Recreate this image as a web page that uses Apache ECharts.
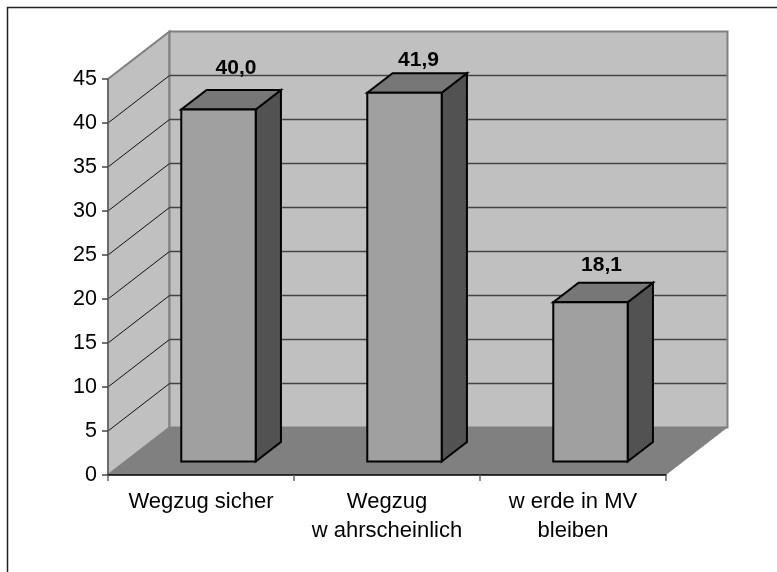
<!DOCTYPE html>
<html>
<head>
<meta charset="utf-8">
<style>
    html, body { margin: 0; padding: 0; background: #fff; overflow: hidden; }
    #main { width: 777px; height: 572px; }
</style>
</head>
<body>
<div id="main"></div>
<script src="https://cdn.jsdelivr.net/npm/echarts@6/dist/echarts.min.js"></script>
<script>
// data
const categories = ['Wegzug sicher', 'Wegzug\nw ahrscheinlich', 'w erde in MV\nbleiben'];
const values = [40.0, 41.9, 18.1];
const valueLabels = ['40,0', '41,9', '18,1'];
const gridValues = [5, 10, 15, 20, 25, 30, 35, 40];
const axisMax = 45;
const axisStep = 5;

// depth of the fake 3d box in pixels
const depthX = 61.5;
const depthY = -47.5;
const barFront = 0.284;
const barBack = 0.695;
const barWidth = 0.4;

const font = '"Liberation Sans", Arial, sans-serif';

let myChart = echarts.init(document.getElementById('main'), null, { renderer: 'canvas' });

function off(p, d) {
    return [p[0] + depthX * d, p[1] + depthY * d];
}

// walls, floor and grid lines
function renderWalls(params, api) {
    let band = api.size([1, 0])[0];
    let left = api.coord([0, 0])[0] - band / 2;
    let right = api.coord([categories.length - 1, 0])[0] + band / 2;
    let y0 = api.coord([0, 0])[1];
    let yTop = api.coord([0, axisMax])[1];
    let a = [left, y0], b = [right, y0], c = [left, yTop];
    let wallStyle = { fill: '#c0c0c0', stroke: '#808080', lineWidth: 2 };
    let children = [
        { type: 'polygon', shape: { points: [a, c, off(c, 1), off(a, 1)] }, style: wallStyle },
        { type: 'polygon', shape: { points: [off(a, 1), off(c, 1), off([right, yTop], 1), off(b, 1)] }, style: wallStyle },
        { type: 'polygon', shape: { points: [a, b, off(b, 1), off(a, 1)] }, style: { fill: '#808080' } }
    ];
    gridValues.forEach(function (v) {
        let y = api.coord([0, v])[1];
        let p1 = [left, y], p2 = off(p1, 1), p3 = off([right, y], 1);
        children.push({ type: 'line', shape: { x1: p1[0], y1: p1[1], x2: p2[0], y2: p2[1] }, style: { stroke: '#111', lineWidth: 1 } });
        children.push({ type: 'line', shape: { x1: p2[0], y1: p2[1], x2: p3[0] - 1, y2: p3[1] }, style: { stroke: '#444', lineWidth: 1.4 } });
    });
    return { type: 'group', children: children };
}

// one 3d column
function renderBar(params, api) {
    // label placement in the reference is a bit uneven, so per bar
    const labelNudge = [[17.5, -41], [14, -33], [11, -37.5]];
    let i = api.value(0);
    let band = api.size([1, 0])[0];
    let cx = api.coord([i, 0])[0];
    let w = band * barWidth;
    let base = api.coord([i, 0])[1];
    let top = api.coord([i, api.value(1)])[1];
    let bl = off([cx - w / 2, base], barFront);
    let br = off([cx + w / 2, base], barFront);
    let tl = off([cx - w / 2, top], barFront);
    let tr = off([cx + w / 2, top], barFront);
    let d = barBack - barFront;
    let outline = { stroke: '#000', lineWidth: 2, lineJoin: 'miter' };
    return {
        type: 'group',
        children: [
            { type: 'polygon', shape: { points: [br, tr, off(tr, d), off(br, d)] }, style: Object.assign({ fill: '#525252' }, outline) },
            { type: 'polygon', shape: { points: [tl, tr, off(tr, d), off(tl, d)] }, style: Object.assign({ fill: '#777777' }, outline) },
            { type: 'polygon', shape: { points: [bl, br, tr, tl] }, style: Object.assign({ fill: '#a0a0a0' }, outline) },
            {
                type: 'text',
                style: {
                    text: valueLabels[i],
                    x: (tl[0] + tr[0]) / 2 + labelNudge[i][0],
                    y: tl[1] + labelNudge[i][1],
                    align: 'center',
                    verticalAlign: 'middle',
                    font: 'bold 21px ' + font,
                    fill: '#000'
                }
            }
        ]
    };
}

let option = {
    animation: false,
    backgroundColor: '#fff',
    textStyle: { fontFamily: font },
    graphic: [{
        // chart frame, cut off by the picture at right and bottom
        type: 'rect',
        shape: { x: 7.5, y: 7.5, width: 900, height: 900 },
        style: { fill: 'none', stroke: '#222', lineWidth: 1.5 },
        silent: true
    }],
    grid: { left: 108, right: 111, top: 79, bottom: 97 },
    xAxis: {
        type: 'category',
        data: categories,
        z: 5,
        axisLine: { lineStyle: { color: '#000', width: 1.5 } },
        axisTick: { show: true, length: 6, lineStyle: { color: '#666', width: 1.5 } },
        axisLabel: { color: '#000', fontSize: 22, lineHeight: 29.5, margin: 12, fontFamily: font, interval: 0 },
        splitLine: { show: false }
    },
    yAxis: {
        type: 'value',
        min: 0,
        max: axisMax,
        interval: axisStep,
        z: 5,
        axisLine: { show: true, lineStyle: { color: '#666', width: 1.5 } },
        axisTick: { show: true, length: 6, lineStyle: { color: '#444', width: 1.5 } },
        axisLabel: { color: '#000', fontSize: 21.5, margin: 11, fontFamily: font },
        splitLine: { show: false }
    },
    series: [{
        type: 'custom',
        name: 'walls',
        z: 1,
        silent: true,
        renderItem: renderWalls,
        data: [[0, 0]]
    }, {
        type: 'custom',
        name: 'bars',
        z: 2,
        renderItem: renderBar,
        encode: { x: 0, y: 1 },
        data: values.map(function (v, i) { return [i, v]; })
    }]
};

myChart.setOption(option);
</script>
</body>
</html>
